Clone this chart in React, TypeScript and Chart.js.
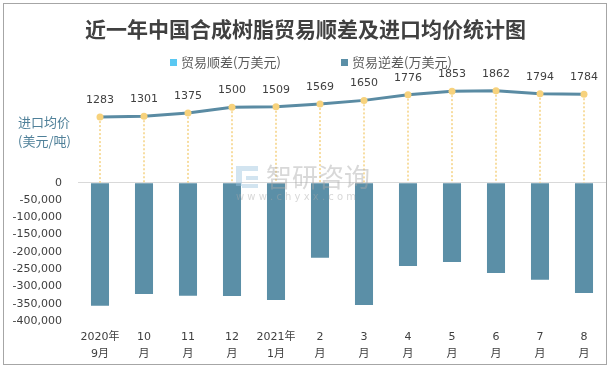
import React, { useEffect, useRef } from "react";
import { Chart, registerables } from "chart.js";
Chart.register(...registerables);

const categories: string[][] = [
  ["2020年", "9月"], ["10", "月"], ["11", "月"], ["12", "月"], ["2021年", "1月"], ["2", "月"],
  ["3", "月"], ["4", "月"], ["5", "月"], ["6", "月"], ["7", "月"], ["8", "月"],
];
const surplus: (number | null)[] = [null, null, null, null, null, null, null, null, null, null, null, null];
const deficit: number[] = [-356000, -322000, -327000, -328000, -339000, -217000, -354000, -241000, -229000, -261000, -281000, -319000];
const avgPrice: number[] = [1283, 1301, 1375, 1500, 1509, 1569, 1650, 1776, 1853, 1862, 1794, 1784];

const TITLE = "近一年中国合成树脂贸易顺差及进口均价统计图";
const LEGEND_SURPLUS = "贸易顺差(万美元)";
const LEGEND_DEFICIT = "贸易逆差(万美元)";
const Y_LABEL = ["进口均价", "(美元/吨)"];

const BAR_COLOR = "#5b8fa7";
const SURPLUS_COLOR = "#5ac8f2";
const LINE_COLOR = "#5a8ba3";
const POINT_COLOR = "#f7d27c";
const NUM_FONT = "'DejaVu Sans', 'Noto Sans CJK SC', sans-serif";
const CJK_FONT = "'Noto Sans CJK SC', sans-serif";

const dropLines = {
  id: "dropLines",
  beforeDatasetsDraw(chart: any) {
    const meta = chart.getDatasetMeta(2);
    const y0 = chart.scales.y.getPixelForValue(0);
    const ctx = chart.ctx;
    ctx.save();
    ctx.strokeStyle = "#f5d283";
    ctx.lineWidth = 1.5;
    ctx.setLineDash([2, 2]);
    meta.data.forEach((pt: any) => {
      ctx.beginPath();
      ctx.moveTo(pt.x, pt.y);
      ctx.lineTo(pt.x, y0);
      ctx.stroke();
    });
    ctx.restore();
  },
};

const pointLabels = {
  id: "pointLabels",
  afterDatasetsDraw(chart: any) {
    const meta = chart.getDatasetMeta(2);
    const ctx = chart.ctx;
    ctx.save();
    ctx.font = `11px ${NUM_FONT}`;
    ctx.fillStyle = "#404040";
    ctx.textAlign = "center";
    ctx.textBaseline = "middle";
    meta.data.forEach((pt: any, i: number) => {
      ctx.fillText(String(avgPrice[i]), pt.x, pt.y - 17);
    });
    ctx.restore();
  },
};

const watermark = {
  id: "watermark",
  afterDatasetsDraw(chart: any) {
    const ctx = chart.ctx;
    ctx.save();
    ctx.globalAlpha = 0.45;
    ctx.fillStyle = "#a9a9a9";
    ctx.font = `26px ${CJK_FONT}`;
    ctx.textAlign = "left";
    ctx.textBaseline = "middle";
    ctx.fillText("智研咨询", 266, 177);
    ctx.font = `10px ${NUM_FONT}`;
    ctx.fillText("w w w . c h y x x . c o m", 236, 197);
    ctx.fillStyle = "#9cc3dd";
    ctx.fillRect(236, 166, 6, 20);
    ctx.fillRect(242, 166, 16, 5);
    ctx.fillRect(246, 176, 12, 4);
    ctx.fillRect(242, 184, 16, 4);
    ctx.restore();
  },
};

export default function App() {
  const ref = useRef<HTMLCanvasElement>(null);
  useEffect(() => {
    if (!ref.current) return;
    const chart = new Chart(ref.current, {
      type: "bar",
      data: {
        labels: categories as any,
        datasets: [
          {
            type: "bar",
            label: LEGEND_SURPLUS,
            data: surplus as any,
            backgroundColor: SURPLUS_COLOR,
            yAxisID: "y",
            grouped: false,
            barPercentage: 0.41,
            categoryPercentage: 1,
          } as any,
          {
            type: "bar",
            label: LEGEND_DEFICIT,
            data: deficit,
            backgroundColor: BAR_COLOR,
            yAxisID: "y",
            grouped: false,
            barPercentage: 0.41,
            categoryPercentage: 1,
          } as any,
          {
            type: "line",
            label: "进口均价",
            data: avgPrice,
            yAxisID: "y2",
            borderColor: LINE_COLOR,
            borderWidth: 3,
            pointRadius: 3.5,
            pointBackgroundColor: POINT_COLOR,
            pointBorderWidth: 0,
            tension: 0,
          } as any,
        ],
      },
      options: {
        animation: false,
        responsive: false,
        devicePixelRatio: 1,
        layout: { padding: { top: 79, left: 0, right: 5, bottom: 9 } },
        plugins: {
          legend: { display: false },
          title: { display: false },
          tooltip: { enabled: false },
        },
        scales: {
          x: {
            offset: true,
            grid: { display: false, drawTicks: false },
            border: { display: false },
            ticks: {
              color: "#404040",
              padding: 8,
              maxRotation: 0,
              autoSkip: false,
              font: { family: NUM_FONT, size: 11, lineHeight: 17 / 11 },
            },
            afterFit(scale: any) {
              scale.height = 40;
            },
          },
          y: {
            position: "left",
            min: -400000,
            max: 300000,
            grid: {
              drawTicks: false,
              color: (c: any) => (c.tick && c.tick.value === 0 ? "#d9d9d9" : "rgba(0,0,0,0)"),
              lineWidth: 1,
            },
            border: { display: false },
            ticks: {
              stepSize: 50000,
              padding: 16,
              color: "#404040",
              font: { family: NUM_FONT, size: 11 },
              callback: (v: any) => (Number(v) > 0 ? "" : Number(v).toLocaleString("en-US")),
            },
            afterFit(scale: any) {
              scale.width = 78;
            },
          },
          y2: {
            position: "right",
            display: false,
            min: -3200,
            max: 2120,
          },
        },
      },
      plugins: [dropLines, pointLabels, watermark],
    } as any);
    return () => chart.destroy();
  }, []);

  return (
    <div style={{ position: "fixed", left: 0, top: 0, width: 611, height: 370, background: "#fff" }}>
      <canvas ref={ref} width={611} height={370} style={{ position: "absolute", left: 0, top: 0 }} />
      <div
        style={{
          position: "absolute", left: 3, top: 3, width: 602, height: 360,
          border: "1px solid #a6a6a6", pointerEvents: "none",
        }}
      />
      <div
        style={{
          position: "absolute", left: 0, top: 15, width: 611, textAlign: "center",
          fontFamily: CJK_FONT, fontWeight: "bold", fontSize: 21, lineHeight: "26px", color: "#404040",
        }}
      >
        {TITLE}
      </div>
      <div style={{ position: "absolute", left: 170, top: 53, display: "flex", alignItems: "center", fontFamily: CJK_FONT, fontSize: 13, lineHeight: "18px", color: "#595959" }}>
        <span style={{ display: "inline-block", width: 7, height: 7, background: SURPLUS_COLOR, marginRight: 4 }} />
        <span>{LEGEND_SURPLUS}</span>
      </div>
      <div style={{ position: "absolute", left: 341, top: 53, display: "flex", alignItems: "center", fontFamily: CJK_FONT, fontSize: 13, lineHeight: "18px", color: "#595959" }}>
        <span style={{ display: "inline-block", width: 7, height: 7, background: BAR_COLOR, marginRight: 4 }} />
        <span>{LEGEND_DEFICIT}</span>
      </div>
      <div style={{ position: "absolute", left: 18, top: 112, fontFamily: CJK_FONT, fontSize: 13, lineHeight: "19px", color: "#4f8099" }}>
        <div>{Y_LABEL[0]}</div>
        <div>{Y_LABEL[1]}</div>
      </div>
    </div>
  );
}
